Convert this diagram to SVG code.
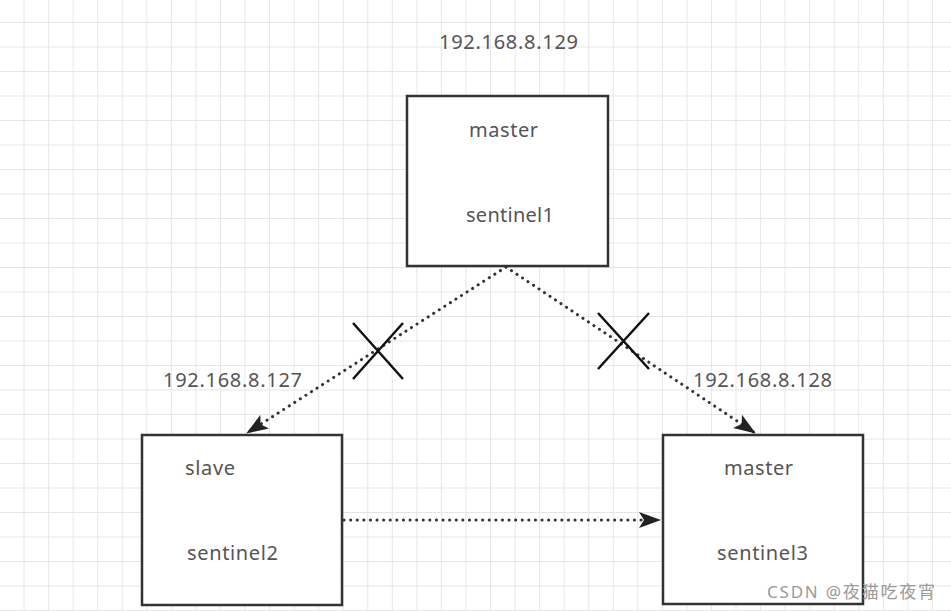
<svg xmlns="http://www.w3.org/2000/svg" width="951" height="611" viewBox="0 0 951 611">
<defs>
<pattern id="grid" x="0" y="-1.5" width="24.55" height="24.5" patternUnits="userSpaceOnUse">
<path d="M24.55 0V24.5M0 24.5H24.55" fill="none" stroke="#e6e6e6" stroke-width="2"/>
</pattern>
<marker id="arr" viewBox="0 0 22 18" refX="21" refY="9" markerWidth="22" markerHeight="18" markerUnits="userSpaceOnUse" orient="auto">
<path d="M0 1L22 9L0 17L5 9Z" fill="#222"/>
</marker>
<style>
.box{fill:#fff;stroke:#333;stroke-width:2.5}
.t{font-family:"Microsoft YaHei","Noto Sans","Noto Sans CJK SC",sans-serif;font-size:20px;fill:#555}
.dot{fill:none;stroke:#333;stroke-width:3;stroke-linecap:round;stroke-dasharray:0.1 6.5}
.x{stroke:#111;stroke-width:2.5}
</style>
</defs>
<rect width="951" height="611" fill="#fff"/>
<rect width="951" height="611" fill="url(#grid)"/>
<g id="connectors">
<path class="dot" d="M506 267L247 433" marker-end="url(#arr)"/>
<path class="dot" d="M506 267L755 433" marker-end="url(#arr)"/>
<path class="dot" d="M344 520L660 520" marker-end="url(#arr)"/>
<path class="x" d="M353 323L403 379M403 323L353 379"/>
<path class="x" d="M598 313L649 369M649 313L598 369"/>
</g>
<g id="ip129"><text class="t" x="439" y="49" textLength="139">192.168.8.129</text></g>
<g id="ip127"><text class="t" x="163" y="387" textLength="139">192.168.8.127</text></g>
<g id="ip128"><text class="t" x="693" y="387" textLength="139">192.168.8.128</text></g>
<g id="node-top">
<rect class="box" x="407" y="96" width="201" height="170"/>
<text class="t" x="469" y="137" textLength="69">master</text>
<text class="t" x="466" y="222" textLength="88">sentinel1</text>
</g>
<g id="node-left">
<rect class="box" x="142" y="435" width="200" height="170"/>
<text class="t" x="185" y="475" textLength="50">slave</text>
<text class="t" x="187" y="560" textLength="91">sentinel2</text>
</g>
<g id="node-right">
<rect class="box" x="663" y="435" width="200" height="169"/>
<text class="t" x="724" y="475" textLength="69">master</text>
<text class="t" x="717" y="560" textLength="91">sentinel3</text>
</g>
<text x="767" y="598" textLength="168" font-family="'Noto Sans','Noto Sans CJK SC',sans-serif" font-size="17" fill="#999">CSDN @夜猫吃夜宵</text>
</svg>
